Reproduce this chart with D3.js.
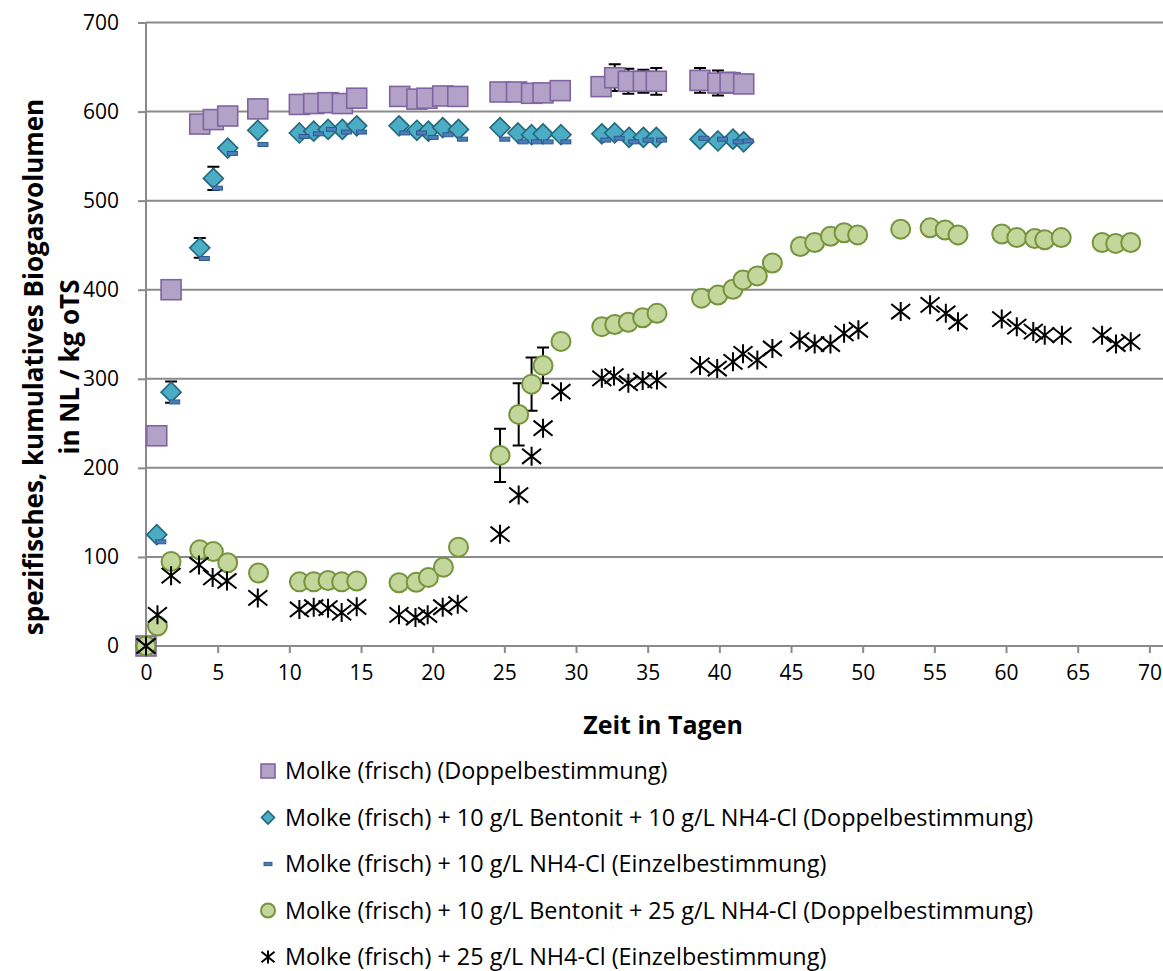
<!DOCTYPE html>
<html>
<head>
<meta charset="utf-8">
<script src="https://cdnjs.cloudflare.com/ajax/libs/d3/7.8.5/d3.min.js"></script>
<style>
  body { margin: 0; background: #fff; }
  svg { display: block; font-family: 'Open Sans', sans-serif; }
</style>
</head>
<body>
<script>
// --- data (days, NL / kg oTS) ---
var seriesNames = [
  'Molke (frisch) (Doppelbestimmung)',
  'Molke (frisch) + 10 g/L Bentonit + 10 g/L NH4-Cl (Doppelbestimmung)',
  'Molke (frisch) + 10 g/L NH4-Cl (Einzelbestimmung)',
  'Molke (frisch) + 10 g/L Bentonit + 25 g/L NH4-Cl (Doppelbestimmung)',
  'Molke (frisch) + 25 g/L NH4-Cl (Einzelbestimmung)'
];

var xTicks = [0, 5, 10, 15, 20, 25, 30, 35, 40, 45, 50, 55, 60, 65, 70];
var yTicks = [0, 100, 200, 300, 400, 500, 600, 700];

var squareDays = [0, 0.75, 1.75, 3.75, 4.7, 5.7, 7.8, 10.7, 11.7, 12.7, 13.7, 14.7, 17.7, 18.9, 19.6, 20.7, 21.75,
  24.7, 25.85, 26.9, 27.7, 28.9, 31.75, 32.7, 33.65, 34.7, 35.6, 38.65, 39.9, 40.75, 41.7];
var squareValues = [0, 236, 400, 586, 591, 595, 603, 608, 609, 610, 609, 615, 617, 614, 615, 617.5, 617,
  622, 622, 620.5, 621, 623.5, 628, 638, 634, 634, 634, 635, 632, 632.5, 631];
var squareErr = [0, 0, 0, 0, 0, 0, 0, 0, 0, 0, 0, 0, 0, 0, 0, 0, 0,
  0, 0, 0, 0, 0, 0, 15, 14, 13, 15, 14, 14, 11, 0];

var diamondDays = [0, 0.75, 1.75, 3.75, 4.7, 5.7, 7.8, 10.7, 11.7, 12.7, 13.7, 14.7, 17.65, 18.9, 19.7, 20.7, 21.8,
  24.7, 25.95, 26.9, 27.7, 28.95, 31.8, 32.7, 33.7, 34.7, 35.6, 38.65, 39.9, 40.95, 41.7];
var diamondValues = [0, 125, 285, 447, 525, 559, 579, 576, 578, 580, 580, 584, 584, 579, 578, 582, 580,
  582, 576, 574, 575, 574, 575, 576, 571, 571, 571, 569, 567, 569, 566];
var diamondErr = [0, 0, 12, 11, 13, 0, 0, 0, 0, 0, 0, 0, 0, 0, 0, 0, 0,
  0, 0, 0, 0, 0, 0, 0, 0, 0, 0, 0, 0, 0, 0];

var dashDays = [0, 1.03, 2.0, 4.07, 4.98, 6.03, 8.16, 11.03, 12.03, 12.94, 13.98, 15.03, 18.05, 19.22, 20.03, 21.07, 22.08,
  25.03, 26.31, 27.24, 28.05, 29.29, 32.08, 33.01, 34.03, 35.03, 35.97, 38.92, 40.22, 41.31, 42.01];
var dashValues = [0, 117, 274, 435, 514, 553, 563, 572, 575, 580, 577, 577, 576, 576, 571, 574, 569,
  569, 566, 566, 566, 566, 568, 570, 566, 568, 568, 570, 569, 566, 567];

var circleDays = [0, 0.8, 1.75, 3.75, 4.7, 5.7, 7.85, 10.7, 11.7, 12.7, 13.65, 14.7, 17.65, 18.85, 19.7, 20.75, 21.8,
  24.7, 26.0, 26.9, 27.7, 28.95, 31.8, 32.7, 33.65, 34.65, 35.65, 38.75, 39.9, 40.95, 41.65, 42.65, 43.7,
  45.65, 46.65, 47.75, 48.7, 49.65, 52.65, 54.7, 55.75, 56.65, 59.7, 60.75, 62.0, 62.7, 63.85, 66.7, 67.65, 68.7];
var circleValues = [0, 22.5, 95, 108, 106, 93.5, 82, 72, 72, 73.5, 72, 73, 71, 71.5, 77, 88.5, 111,
  214, 260, 294, 315, 342, 358.5, 361, 363.5, 368.5, 373.5, 390.5, 394, 400.5, 411, 415.5, 430,
  448.5, 453, 460, 464, 461.5, 468, 469.5, 467, 461.5, 462.5, 458.5, 457.5, 456, 458.5, 453, 452, 453];
var circleErr = [0, 0, 0, 0, 0, 0, 0, 0, 0, 0, 0, 0, 0, 0, 0, 0, 0,
  30, 35, 30, 20, 0, 0, 0, 0, 0, 0, 0, 0, 0, 0, 0, 0,
  0, 0, 0, 0, 0, 0, 0, 0, 0, 0, 0, 0, 0, 0, 0, 0, 0];

var starDays = [0, 0.8, 1.75, 3.7, 4.65, 5.65, 7.8, 10.7, 11.7, 12.7, 13.65, 14.7, 17.65, 18.8, 19.65, 20.7, 21.75,
  24.7, 26.0, 26.9, 27.7, 28.95, 31.8, 32.65, 33.65, 34.65, 35.65, 38.65, 39.85, 40.95, 41.65, 42.65, 43.7,
  45.6, 46.65, 47.75, 48.7, 49.7, 52.65, 54.7, 55.8, 56.65, 59.7, 60.75, 61.9, 62.7, 63.9, 66.7, 67.67, 68.7];
var starValues = [0, 35, 79, 91, 77, 73, 54, 41, 43.5, 42.5, 37.5, 44, 35, 32, 35, 43.5, 47,
  125.5, 169.5, 213, 244.5, 285.5, 300.5, 303, 295, 298, 298.5, 315, 311.5, 319, 328, 321, 334,
  343.5, 339, 339, 351, 355, 375.5, 383, 373.5, 364, 367, 358.5, 353, 349, 349, 349, 339, 341.5];

var width = 1163, height = 971;

var svg = d3.select('body').append('svg')
  .attr('width', width)
  .attr('height', height);

var x = d3.scaleLinear().domain([0, 70.95]).range([146, 1163]);
var y = d3.scaleLinear().domain([0, 700]).range([646, 22.5]);

var gridColor = '#8a8a8a';

// gridlines
svg.append('g').selectAll('line.grid')
  .data(yTicks.filter(function(d) { return d > 0; }))
  .enter().append('line')
  .attr('x1', x(0)).attr('x2', width)
  .attr('y1', function(d) { return y(d); })
  .attr('y2', function(d) { return y(d); })
  .style('stroke', gridColor)
  .style('stroke-width', 2);

// axes
var yAxis = svg.append('g')
  .attr('transform', 'translate(' + x(0) + ',0)')
  .call(d3.axisLeft(y).tickValues(yTicks).tickSize(8).tickPadding(19));

var xAxis = svg.append('g')
  .attr('transform', 'translate(0,' + y(0) + ')')
  .call(d3.axisBottom(x).tickValues(xTicks).tickSize(7).tickPadding(12));

[xAxis, yAxis].forEach(function(ax) {
  ax.select('.domain').remove();
  ax.selectAll('.tick line').style('stroke', gridColor).style('stroke-width', 2);
  ax.selectAll('.tick text').style('font-size', '21px').style('fill', '#000').style('font-family', "'Open Sans', sans-serif");
});

// axis lines (x line to the cropped right edge)
svg.append('line')
  .attr('x1', x(0)).attr('x2', width)
  .attr('y1', y(0)).attr('y2', y(0))
  .style('stroke', gridColor).style('stroke-width', 2);
svg.append('line')
  .attr('x1', x(0)).attr('x2', x(0))
  .attr('y1', y(700)).attr('y2', y(0))
  .style('stroke', gridColor).style('stroke-width', 2);

// axis titles
svg.append('text')
  .attr('x', 663).attr('y', 734)
  .attr('text-anchor', 'middle')
  .style('font-size', '25px').style('font-weight', 'bold')
  .text('Zeit in Tagen');

var yTitle = svg.append('text')
  .attr('transform', 'translate(0,' + 367 + ') rotate(-90)')
  .attr('text-anchor', 'middle')
  .style('font-size', '26px').style('font-weight', 'bold');
yTitle.append('tspan').attr('x', 0).attr('y', 43).text('spezifisches, kumulatives Biogasvolumen');
yTitle.append('tspan').attr('x', 0).attr('y', 79).text('in NL / kg oTS');

// marker drawing
function drawMarker(g, type, s) {
  if (type === 'square') {
    g.append('rect').attr('x', -s).attr('y', -s).attr('width', 2 * s).attr('height', 2 * s)
      .style('fill', '#b3a2c7').style('stroke', '#8064a2').style('stroke-width', 1.6);
  } else if (type === 'diamond') {
    g.append('path').attr('d', 'M0,' + (-s) + 'L' + s + ',0L0,' + s + 'L' + (-s) + ',0Z')
      .style('fill', '#4bacc6').style('stroke', '#25687a').style('stroke-width', 1.6);
  } else if (type === 'dash') {
    g.append('rect').attr('x', -s).attr('y', -s * 0.4).attr('width', 2 * s).attr('height', s * 0.8)
      .style('fill', '#4a7ebb').style('stroke', '#30598c').style('stroke-width', 1);
  } else if (type === 'circle') {
    g.append('circle').attr('r', s)
      .style('fill', '#c3d69b').style('stroke', '#77933c').style('stroke-width', 2);
  } else if (type === 'star') {
    g.append('path')
      .attr('d', 'M0,' + (-s) + 'L0,' + s +
        'M' + (-s) + ',' + (-s * 0.8) + 'L' + s + ',' + (s * 0.8) +
        'M' + (-s) + ',' + (s * 0.8) + 'L' + s + ',' + (-s * 0.8))
      .style('fill', 'none').style('stroke', '#000').style('stroke-width', 2);
  }
}

var series = [
  { type: 'square', size: 10, days: squareDays, values: squareValues, err: squareErr },
  { type: 'diamond', size: 10, days: diamondDays, values: diamondValues, err: diamondErr },
  { type: 'dash', size: 5, days: dashDays, values: dashValues, err: null },
  { type: 'circle', size: 9.5, days: circleDays, values: circleValues, err: circleErr },
  { type: 'star', size: 9.5, days: starDays, values: starValues, err: null }
];

series.forEach(function(sr) {
  var pts = sr.days.map(function(d, i) { return { day: d, value: sr.values[i], err: sr.err ? sr.err[i] : 0 }; });

  // error bars behind markers
  var eb = svg.append('g').selectAll('g.err')
    .data(pts.filter(function(p) { return p.err > 0; }))
    .enter().append('g')
    .attr('transform', function(p) { return 'translate(' + x(p.day) + ',0)'; });
  eb.append('path')
    .attr('d', function(p) {
      var y1 = y(p.value + p.err), y2 = y(p.value - p.err);
      return 'M0,' + y1 + 'L0,' + y2 + 'M-6,' + y1 + 'L6,' + y1 + 'M-6,' + y2 + 'L6,' + y2;
    })
    .style('fill', 'none').style('stroke', '#000').style('stroke-width', 2);

  var marks = svg.append('g').selectAll('g.mark')
    .data(pts)
    .enter().append('g')
    .attr('transform', function(p) { return 'translate(' + x(p.day) + ',' + y(p.value) + ')'; });
  marks.each(function() { drawMarker(d3.select(this), sr.type, sr.size); });
});

// legend
var legend = svg.append('g').selectAll('g.legend')
  .data(seriesNames)
  .enter().append('g')
  .attr('transform', function(d, i) { return 'translate(268,' + (771 + i * 46.5) + ')'; });

var legendSizes = [7, 6.5, 4, 7, 6.5];
legend.each(function(d, i) { drawMarker(d3.select(this), series[i].type, legendSizes[i]); });

legend.append('text')
  .attr('x', 17).attr('y', 8)
  .style('font-size', '23.4px')
  .text(function(d) { return d; });
</script>
</body>
</html>
